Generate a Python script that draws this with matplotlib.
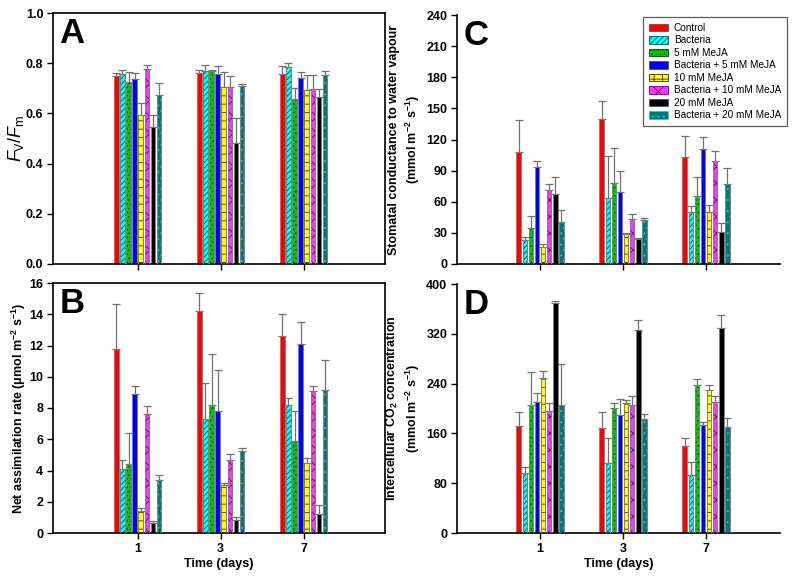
import numpy as np
import matplotlib
matplotlib.use("Agg")
import matplotlib.pyplot as plt
from matplotlib.patches import Patch

plt.rcParams['font.family'] = ['Liberation Sans', 'DejaVu Sans']
plt.rcParams['mathtext.fontset'] = 'custom'
plt.rcParams['mathtext.rm'] = 'Liberation Sans'
plt.rcParams['mathtext.it'] = 'Liberation Sans:italic'
plt.rcParams['mathtext.bf'] = 'Liberation Sans:bold'
plt.rcParams['hatch.linewidth'] = 0.6

days = ['1', '3', '7']
treatments = ['Control', 'Bacteria', '5 mM MeJA', 'Bacteria + 5 mM MeJA',
              '10 mM MeJA', 'Bacteria + 10 mM MeJA', '20 mM MeJA', 'Bacteria + 20 mM MeJA']

# Panel A: Fv/Fm
fvfm = [[0.750, 0.761, 0.758], [0.756, 0.768, 0.783], [0.725, 0.768, 0.656], [0.737, 0.756, 0.741],
        [0.592, 0.705, 0.694], [0.778, 0.704, 0.696], [0.545, 0.482, 0.664], [0.674, 0.708, 0.754]]
fvfm_se = [[0.009, 0.013, 0.030], [0.018, 0.023, 0.019], [0.041, 0.006, 0.045], [0.024, 0.033, 0.025],
           [0.048, 0.061, 0.059], [0.015, 0.045, 0.058], [0.049, 0.098, 0.032], [0.046, 0.010, 0.014]]

# Panel B: net assimilation rate
anet = [[11.76, 14.21, 12.63], [4.10, 7.29, 8.17], [4.40, 8.17, 5.92], [8.87, 7.82, 12.08],
        [1.39, 3.06, 4.45], [7.59, 4.66, 9.08], [0.64, 0.86, 1.22], [3.42, 5.24, 9.17]]
anet_se = [[2.90, 1.14, 1.39], [0.60, 2.31, 0.48], [1.97, 3.29, 1.88], [0.55, 2.61, 1.45],
           [0.24, 0.17, 0.38], [0.51, 0.38, 0.34], [0.13, 0.17, 0.60], [0.32, 0.19, 1.88]]

# Panel C: stomatal conductance
gs = [[108.3, 139.8, 102.9], [23.1, 63.6, 50.1], [34.7, 78.4, 65.3], [93.5, 69.4, 110.6],
      [16.7, 28.9, 50.1], [71.4, 43.4, 99.0], [67.8, 23.8, 31.2], [40.2, 42.4, 77.5]]
gs_se = [[30.6, 17.1, 20.5], [3.3, 40.2, 5.5], [11.6, 33.2, 18.3], [5.5, 20.0, 11.6],
         [2.9, 1.0, 6.5], [6.1, 4.8, 10.3], [16.4, 1.6, 8.3], [12.2, 1.7, 15.4]]

# Panel D: intercellular CO2
ci = [[171.2, 168.0, 139.8], [95.8, 112.9, 93.2], [205.6, 200.2, 237.1], [209.8, 189.6, 173.5],
      [248.4, 208.2, 230.2], [195.4, 206.1, 210.4], [369.5, 326.1, 329.3], [205.6, 183.1, 170.8]]
ci_se = [[23.1, 26.3, 13.3], [9.6, 39.1, 21.3], [53.5, 8.0, 10.3], [15.6, 26.1, 4.2],
         [12.3, 5.4, 6.9], [12.8, 13.3, 9.7], [3.7, 16.1, 21.4], [65.3, 7.4, 13.9]]

colors = ['#ff0000', '#00ffff', '#00c800', '#0000ff', '#ffff00', '#ff33ff', '#000000', '#007878']
hatches = [None, '//////', '....', None, '++', 'xx', None, '...']
hatch_colors = ['#ff0000', '#205050', '#004d00', '#0000ff', '#303000', '#700070', '#000000', '#40c0c0']

fig = plt.figure(figsize=(8, 5.84), dpi=100)
W, H = 800, 584


def ax_px(left, top, width, height):
    return fig.add_axes([left / W, (H - top - height) / H, width / W, height / H])


axA = ax_px(53, 13, 332, 251)
axB = ax_px(53, 283, 332, 250)
axC = ax_px(457, 15, 323, 249)
axD = ax_px(457, 284, 323, 249)

step = 0.0735
bw = 0.054
x = np.arange(len(days))


def draw(ax, vals, ses):
    for i in range(len(treatments)):
        pos = x + (i - 3.5) * step
        v = np.array(vals[i])
        e = np.array(ses[i])
        ax.errorbar(pos, v, yerr=[np.zeros_like(e), e], fmt='none', ecolor='#707070',
                    elinewidth=0.9, capsize=2.6, capthick=0.9, zorder=1)
        ax.bar(pos, v, width=bw, color=colors[i], edgecolor='#808080', linewidth=0.6, zorder=2)
        if hatches[i]:
            ax.bar(pos, v, width=bw, color='none', edgecolor=hatch_colors[i], hatch=hatches[i],
                   linewidth=0, zorder=3)
            ax.bar(pos, v, width=bw, color='none', edgecolor='#808080', linewidth=0.6, zorder=4)


tick_font = dict(fontsize=9, fontweight='bold')
for ax, vals, ses, ymax, ystep in [(axA, fvfm, fvfm_se, 1.0, 0.2), (axB, anet, anet_se, 16, 2),
                                   (axC, gs, gs_se, 240, 30), (axD, ci, ci_se, 400, 80)]:
    draw(ax, vals, ses)
    ax.set_ylim(0, ymax)
    yt = np.arange(0, ymax + ystep / 2, ystep)
    ax.set_yticks(yt)
    if ax is axA:
        ax.set_yticklabels([f'{t:.1f}' for t in yt], **tick_font)
    else:
        ax.set_yticklabels([f'{t:g}' for t in yt], **tick_font)
    ax.set_xticks(x)
    if ax in (axB, axD):
        ax.set_xticklabels(days, **tick_font)
        ax.set_xlabel('Time (days)', fontsize=9, fontweight='bold', labelpad=2)
    else:
        ax.set_xticklabels([])
    ax.tick_params(direction='out', length=4, width=1, pad=3)
    for s in ax.spines.values():
        s.set_linewidth(1.2)

for ax in (axA, axB):
    ax.set_xlim(-1.02, 2.98)
for ax in (axC, axD):
    ax.set_xlim(-1.0, 2.89)
    ax.spines['top'].set_visible(False)
    ax.spines['right'].set_visible(False)

for ax, letter in [(axA, 'A'), (axB, 'B'), (axC, 'C'), (axD, 'D')]:
    ax.text(0.02, 0.985, letter, transform=ax.transAxes, fontsize=25, fontweight='bold',
            va='top', ha='left')

axA.set_ylabel(r'$\mathit{F}_{\mathrm{V}}/\mathit{F}_{\mathrm{m}}$', fontsize=13, labelpad=0)
axB.set_ylabel(r'Net assimilation rate ($\mathbf{\mu}$mol m$^{\mathbf{-2}}$ s$^{\mathbf{-1}}$)',
               fontsize=9, fontweight='bold', labelpad=1)
axC.set_ylabel('Stomatal conductance to water vapour\n'
               r'(mmol m$^{\mathbf{-2}}$ s$^{\mathbf{-1}}$)', fontsize=9, fontweight='bold',
               labelpad=3, linespacing=1.3)
axD.set_ylabel(r'Intercellular CO$_{\mathbf{2}}$ concentration' '\n'
               r'(mmol m$^{\mathbf{-2}}$ s$^{\mathbf{-1}}$)', fontsize=9, fontweight='bold',
               labelpad=3, linespacing=1.3)

handles = [Patch(facecolor=colors[i], edgecolor=hatch_colors[i] if hatches[i] else '#555555',
                 hatch=hatches[i], linewidth=0.6, label=treatments[i]) for i in range(len(treatments))]
leg = axC.legend(handles=handles, loc='upper right', bbox_to_anchor=(1.022, 0.992),
                 borderaxespad=0, fontsize=7.2, handlelength=1.9, handleheight=0.75,
                 labelspacing=0.25, handletextpad=0.6, borderpad=0.6, frameon=True,
                 fancybox=False)
leg.get_frame().set_edgecolor('#333333')
leg.get_frame().set_linewidth(0.9)

fig.savefig('out.png', dpi=100)
